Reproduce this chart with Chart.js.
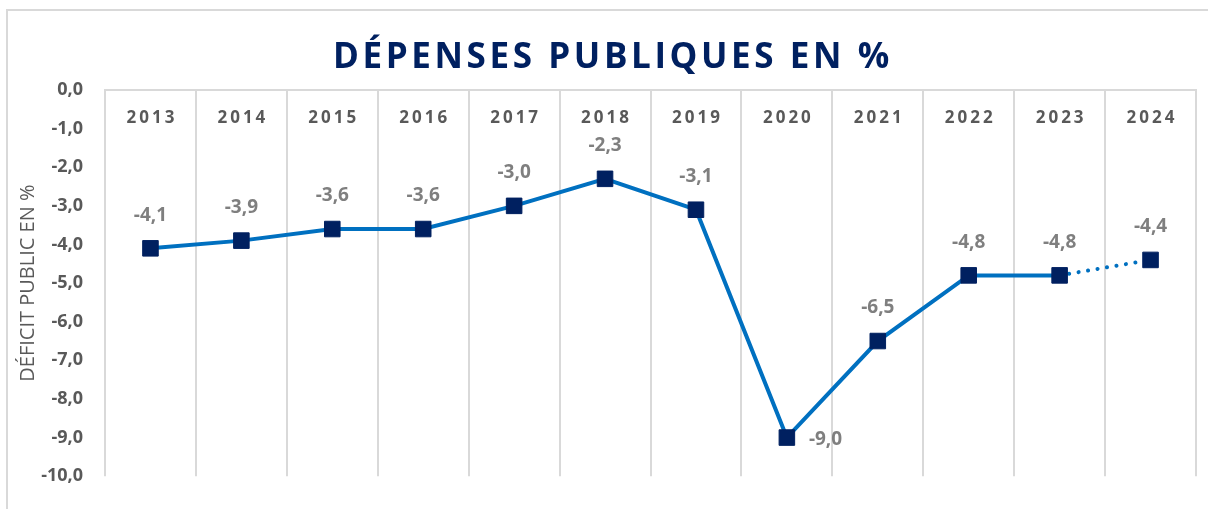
<!DOCTYPE html>
<html>
<head>
<meta charset="utf-8">
<script src="https://cdn.jsdelivr.net/npm/chart.js@4/dist/chart.umd.min.js"></script>
<style>
html,body{margin:0;padding:0;background:#fff;}
#wrap{width:1208px;height:509px;position:relative;}
</style>
</head>
<body>
<div id="wrap"><canvas id="c" width="1208" height="509"></canvas></div>
<script>
const chartTitle = "DÉPENSES PUBLIQUES EN %";
const yAxisTitle = "DÉFICIT PUBLIC EN %";
const years = ["2013","2014","2015","2016","2017","2018","2019","2020","2021","2022","2023","2024"];
const deficit = [-4.1,-3.9,-3.6,-3.6,-3.0,-2.3,-3.1,-9.0,-6.5,-4.8,-4.8,-4.4];
const yTicks = [0,-1,-2,-3,-4,-5,-6,-7,-8,-9,-10];

const fmt = v => v.toFixed(1).replace('.', ',');

const decor = {
  id: 'decor',
  beforeDraw(chart) {
    const ctx = chart.ctx;
    ctx.save();
    ctx.fillStyle = '#fff';
    ctx.fillRect(0, 0, chart.width, chart.height);
    ctx.strokeStyle = '#d9d9d9';
    ctx.lineWidth = 2;
    ctx.strokeRect(7, 10, 1400, 700);
    ctx.restore();
  },
  afterDraw(chart) {
    const ctx = chart.ctx;
    const x = chart.scales.x, y = chart.scales.y;
    ctx.save();
    // title
    ctx.fillStyle = '#002060';
    ctx.font = 'bold 35px "Open Sans"';
    ctx.letterSpacing = '3.6px';
    ctx.textAlign = 'center';
    ctx.textBaseline = 'middle';
    ctx.fillText(chartTitle, 613, 58);
    // category labels inside plot
    ctx.fillStyle = '#595959';
    ctx.font = 'bold 17px "Open Sans"';
    ctx.letterSpacing = '3px';
    years.forEach((yr, i) => {
      ctx.fillText(yr, x.getPixelForValue(i) + 1.5, y.getPixelForValue(-0.73));
    });
    // data labels
    ctx.letterSpacing = '0px';
    ctx.fillStyle = '#7f7f7f';
    ctx.font = 'bold 19px "Open Sans"';
    const meta = chart.getDatasetMeta(0);
    meta.data.forEach((pt, i) => {
      const v = deficit[i];
      if (i === 7) {
        ctx.textAlign = 'left';
        ctx.fillText(fmt(v), pt.x + 22, pt.y + 2);
      } else {
        ctx.textAlign = 'center';
        ctx.fillText(fmt(v), pt.x, pt.y - 33);
      }
    });
    ctx.restore();
  }
};

new Chart(document.getElementById('c'), {
  type: 'line',
  data: {
    labels: years,
    datasets: [{
      data: deficit,
      borderColor: '#0070C0',
      borderWidth: 4,
      borderCapStyle: 'round',
      pointStyle: 'rect',
      pointRadius: 11,
      pointHoverRadius: 11,
      pointBackgroundColor: '#002060',
      pointBorderColor: '#002060',
      pointBorderWidth: 1,
      tension: 0,
      segment: {
        borderDash: ctx => ctx.p1DataIndex === years.length - 1 ? [0.1, 9.5] : undefined
      }
    }]
  },
  options: {
    responsive: false,
    animation: false,
    events: [],
    layout: { padding: { left: 0, right: 12, top: 90, bottom: 32 } },
    plugins: { legend: { display: false }, tooltip: { enabled: false }, title: { display: false } },
    scales: {
      x: {
        position: 'top',
        offset: true,
        ticks: { display: false },
        grid: { display: true, offset: true, color: '#d9d9d9', lineWidth: 2, drawTicks: false },
        border: { display: true, color: '#d9d9d9', width: 2 }
      },
      y: {
        min: -10, max: 0,
        afterFit(s) { s.width = 105; },
        afterBuildTicks(s) { s.ticks = yTicks.map(v => ({ value: v })); },
        ticks: {
          padding: 22,
          color: '#595959',
          font: { family: '"Open Sans"', size: 18, weight: 'bold' },
          callback: v => fmt(v)
        },
        grid: { display: false, drawTicks: false },
        border: { display: false },
        title: {
          display: true,
          text: yAxisTitle,
          color: '#595959',
          font: { family: '"Open Sans"', size: 20, weight: 'normal' },
          padding: { top: 16, bottom: 0 }
        }
      }
    }
  },
  plugins: [decor]
});
</script>
</body>
</html>
